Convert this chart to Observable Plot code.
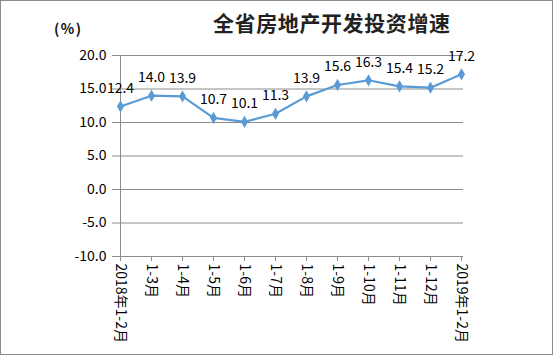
<!DOCTYPE html>
<html>
<head>
<meta charset="utf-8">
<script src="https://cdn.jsdelivr.net/npm/d3@7"></script>
<script src="https://cdn.jsdelivr.net/npm/@observablehq/plot@0.6"></script>
<style>
  html, body { margin: 0; padding: 0; background: #fff; }
  #wrap { position: relative; width: 554px; height: 355px; overflow: hidden; }
  #border { position: absolute; left: 0; top: 0; width: 553px; height: 355px; box-sizing: border-box; border: 1px solid #8c8c8c; pointer-events: none; }
  #title { position: absolute; left: 213px; top: 12px; font-family: "Noto Sans CJK SC", sans-serif; font-weight: bold; font-size: 21px; letter-spacing: 0.6px; color: #222; white-space: nowrap; line-height: 1; }
  #unit { position: absolute; left: 54px; top: 21px; font-family: "Noto Sans CJK SC", sans-serif; font-weight: bold; font-size: 14px; letter-spacing: 1.5px; color: #111; line-height: 1; }
  #chart { position: absolute; left: 0; top: 0; }
</style>
</head>
<body>
<div id="wrap">
  <div id="chart"></div>
  <div id="title">全省房地产开发投资增速</div>
  <div id="unit">(%)</div>
  <div id="border"></div>
</div>
<script>
const categories = ["2018年1-2月", "1-3月", "1-4月", "1-5月", "1-6月", "1-7月", "1-8月", "1-9月", "1-10月", "1-11月", "1-12月", "2019年1-2月"];
const values = [12.4, 14.0, 13.9, 10.7, 10.1, 11.3, 13.9, 15.6, 16.3, 15.4, 15.2, 17.2];
const yTicks = [-10, -5, 0, 5, 10, 15, 20];

const data = categories.map((c, i) => ({cat: c, value: values[i]}));
const font = "'Noto Sans CJK SC', sans-serif";
const blue = "#5B9BD5";
const grey = "#8c8c8c";

const chart = Plot.plot({
  width: 554,
  height: 355,
  marginTop: 55,
  marginBottom: 99,
  marginLeft: 117,
  marginRight: 91,
  style: {fontFamily: font, fontSize: "14px", background: "transparent", color: "#000"},
  x: {type: "point", domain: categories, padding: 0, axis: null, label: null},
  y: {domain: [-10, 20], axis: null, label: null},
  marks: [
    Plot.gridY(yTicks, {stroke: grey, strokeOpacity: 1, strokeWidth: 1}),
    Plot.ruleX([categories[0]], {stroke: grey, strokeWidth: 1}),
    Plot.axisY({ticks: yTicks, label: null, tickSize: 5, tickPadding: 6, tickFormat: d => d.toFixed(1), stroke: grey, color: "#000", fontSize: 14, fontFamily: font}),
    Plot.axisX({anchor: "bottom", label: null, tickSize: 5, tickPadding: 2, tickRotate: 90, stroke: grey, color: "#000", fontSize: 14, fontFamily: font}),
    Plot.line(data, {x: "cat", y: "value", stroke: blue, strokeWidth: 2.2}),
    Plot.dot(data, {x: "cat", y: "value", symbol: "diamond", fill: blue, stroke: blue, r: 2.8}),
    Plot.text(data, {x: "cat", y: "value", text: d => d.value.toFixed(1), dy: -18, fontSize: 14, fill: "#000", fontFamily: font})
  ]
});
document.getElementById("chart").appendChild(chart);
</script>
</body>
</html>
